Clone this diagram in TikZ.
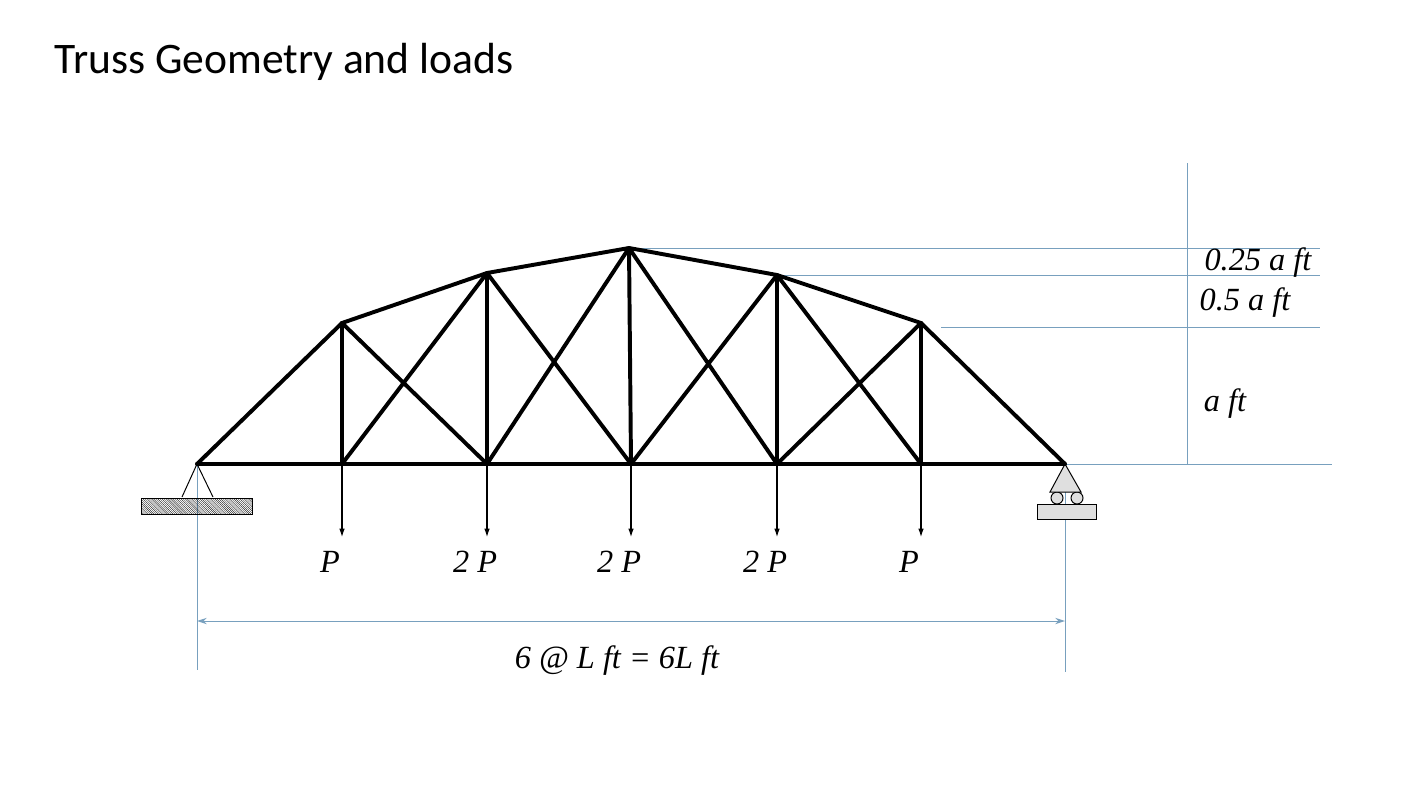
\documentclass[tikz,border=0pt]{standalone}
\usepackage{fontspec}
\setmainfont{Liberation Serif}
\newfontfamily\titlefont{Carlito}
\usetikzlibrary{arrows,arrows.meta,patterns,calc}
\definecolor{dimblue}{RGB}{120,160,190}
\begin{document}
\begin{tikzpicture}[x=0.05cm,y=-0.05cm,>={Latex[length=12pt,width=8pt]},
    member/.style={line width=5.6pt,line cap=round},
    dim/.style={dimblue,line width=1.4pt},
    load/.style={->,line width=1.5pt},
    lbl/.style={font=\fontsize{46}{50}\selectfont\itshape}]
  \useasboundingbox (0,0) rectangle (1414,805);
  \node[anchor=west,font=\titlefont\fontsize{62}{66}\selectfont] (title) at (52,62) {Truss Geometry and loads};
  % joints
  \foreach \n/\x in {0/197,1/342,2/487,3/631,4/777,5/921,6/1065}
    \coordinate (b\n) at (\x,464);
  \coordinate (t1) at (342,323);
  \coordinate (t2) at (487,273);
  \coordinate (t3) at (629,248);
  \coordinate (t4) at (777,275);
  \coordinate (t5) at (921,323);
  % dimension lines
  \draw[dim] (t3) -- (1320,248);
  \draw[dim] (t4) -- (1320,275);
  \draw[dim] (941,327) -- (1320,327);
  \draw[dim] (b6) -- (1332,464);
  \draw[dim] (1187,163) -- (1187,464);
  \draw[dim] (b0) -- (197,670);
  \draw[dim] (b6) -- (1065,672);
  \draw[dim,{Stealth[length=14pt,width=9pt]}-{Stealth[length=14pt,width=9pt]}] (197,621) -- (1065,621);
  % supports
  \draw[line width=1.4pt,pattern=north west lines] (141,498) rectangle (252,514);
  \draw[line width=1.4pt] (182,497) -- (b0) -- (213,497);
  \draw[line width=1.4pt,fill=gray!25] (1037,504) rectangle (1096,519);
  \draw[line width=1.4pt,fill=gray!25] (1057,498) circle (6);
  \draw[line width=1.4pt,fill=gray!25] (1077,498) circle (6);
  \draw[line width=1.4pt,fill=gray!25] (1050,492) -- (b6) -- (1081,492) -- cycle;
  % members
  \draw[member] (b0) -- (b6);
  \draw[member] (b0) -- (t1) -- (t2) -- (t3) -- (t4) -- (t5) -- (b6);
  \foreach \i in {1,...,5}
    \draw[member] (t\i) -- (b\i);
  \draw[member] (t1) -- (b2) (b1) -- (t2) (t2) -- (b3) (b2) -- (t3)
    (t3) -- (b4) (b3) -- (t4) (t4) -- (b5) (b4) -- (t5);
  % loads
  \foreach \i/\p in {1/P,2/2 P,3/2 P,4/2 P,5/P} {
    \draw[load] (b\i) -- ++(0,73);
    \node[lbl] (p\i) at ($(b\i)+(-12,98)$) {\p};
  }
  \node[lbl] (h1) at (1258,263) {0.25 a ft};
  \node[lbl] (h2) at (1245,303) {0.5 a ft};
  \node[lbl] (h3) at (1225,404) {a ft};
  \node[lbl] (span) at (617,661) {6 @ L ft = 6L ft};
\end{tikzpicture}
\end{document}
